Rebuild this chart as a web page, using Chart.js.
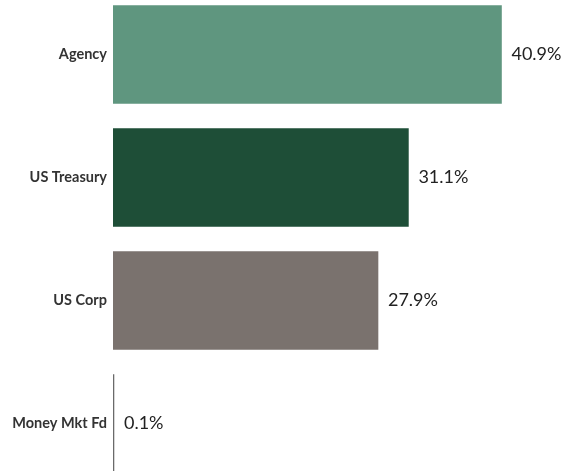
<!DOCTYPE html>
<html>
<head>
<meta charset="utf-8">
<script src="https://cdn.jsdelivr.net/npm/chart.js@4/dist/chart.umd.min.js"></script>
<style>
  html, body { margin: 0; padding: 0; background: #ffffff; overflow: hidden; width: 567px; height: 471px; }
  #wrap { position: absolute; left: 0; top: -7.5px; width: 567px; height: 492px; }
</style>
</head>
<body>
<div id="wrap"><canvas id="c"></canvas></div>
<script>
const categories = ["Agency", "US Treasury", "US Corp", "Money Mkt Fd"];
const values = [40.9, 31.1, 27.9, 0.1];
const valueLabels = ["40.9%", "31.1%", "27.9%", "0.1%"];
const barColors = ["#5f967f", "#1e4e37", "#7a726e", "#6a6a6a"];

const valueLabelPlugin = {
  id: "valueLabels",
  afterDatasetsDraw(chart) {
    const ctx = chart.ctx;
    const meta = chart.getDatasetMeta(0);
    ctx.save();
    ctx.font = "18px Lato, 'Open Sans', sans-serif";
    ctx.fillStyle = "#222222";
    ctx.textAlign = "left";
    ctx.textBaseline = "middle";
    meta.data.forEach((bar, i) => {
      ctx.fillText(valueLabels[i], bar.x + 10, bar.y);
    });
    ctx.restore();
  }
};

new Chart(document.getElementById("c"), {
  type: "bar",
  data: {
    labels: categories,
    datasets: [{
      data: values,
      backgroundColor: barColors,
      borderWidth: 0,
      barThickness: 98
    }]
  },
  options: {
    indexAxis: "y",
    responsive: true,
    maintainAspectRatio: false,
    animation: false,
    layout: { padding: 0 },
    plugins: { legend: { display: false }, tooltip: { enabled: false } },
    scales: {
      x: {
        display: false,
        min: 0,
        max: 47.8
      },
      y: {
        grid: { display: false, drawTicks: false },
        border: { display: false },
        afterFit(axis) {
          axis.width = 113;
          axis.paddingTop = 0;
          axis.paddingBottom = 0;
        },
        ticks: {
          padding: 6,
          color: "#333333",
          font: { family: "Lato, 'Open Sans', sans-serif", size: 14.5, weight: "bold" }
        }
      }
    }
  },
  plugins: [valueLabelPlugin]
});
</script>
</body>
</html>
